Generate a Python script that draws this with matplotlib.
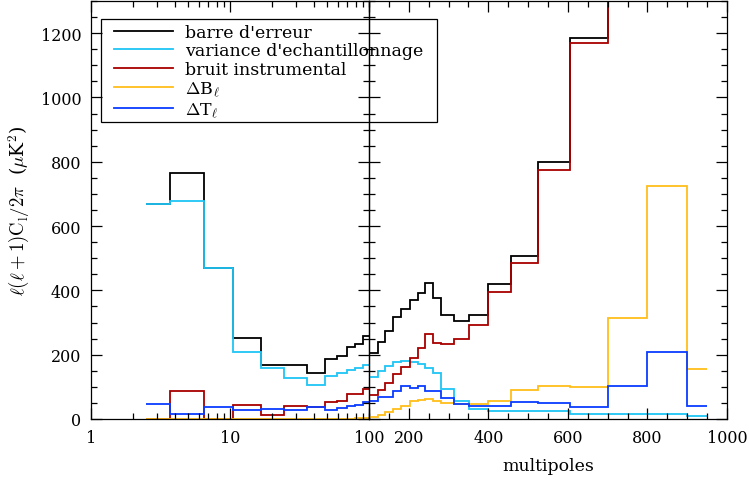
#Barres d'erreur du spectre de puissance : deux echelles (log puis lineaire)

import matplotlib
matplotlib.use('Agg')
import matplotlib.pyplot as plt
from matplotlib.ticker import FixedLocator, MultipleLocator, NullFormatter, FixedFormatter

plt.rcParams['font.family'] = ['DejaVu Serif']
plt.rcParams['mathtext.fontset'] = 'cm'

#bords des intervalles en multipoles
bords_log = [2.49, 3.72, 6.47, 10.5, 16.6, 24.6, 35.6, 48, 58.6, 69, 79, 90, 100]
bords_lin = [100, 122, 141, 161, 181, 202, 222, 242, 261, 282, 313, 352, 400, 457, 524, 606, 700, 798, 899, 949]

#partie gauche (l < 100)
erreur_g = [668, 764, 471, 252, 168, 168, 144, 187, 197, 224, 233, 259]
variance_g = [668, 678, 471, 207, 158, 127, 106, 135, 142, 153, 159, 168]
bruit_g = [0, 86, 1, 44, 12, 41, 38, 52, 55, 78, 78, 93]
dB_g = [0, 0, 0, 0, 0, 0, 0, 0, 0, 1, 2, 4]
dT_g = [47, 16, 38, 29, 31, 29, 36, 29, 34, 41, 44, 52]

#partie droite (l > 100)
erreur_d = [205, 240, 275, 316, 342, 370, 392, 422, 376, 324, 304, 323, 420, 508, 800, 1184, 1450, 1600, 1550]
variance_d = [132, 149, 166, 176, 181, 178, 171, 158, 142, 93, 55, 31, 26, 26, 26, 16, 16, 16, 9]
bruit_d = [75, 91, 111, 140, 161, 189, 220, 264, 236, 233, 249, 292, 394, 484, 775, 1169, 1440, 1590, 1540]
dB_d = [5, 12, 21, 31, 41, 57, 59, 62, 55, 50, 47, 47, 55, 91, 102, 98, 315, 726, 155]
dT_d = [57, 67, 69, 88, 104, 95, 104, 88, 88, 64, 47, 41, 41, 52, 49, 38, 102, 209, 41]

noms = ["barre d'erreur", "variance d'echantillonnage", 'bruit instrumental',
        r'$\Delta$B$_\ell$', r'$\Delta$T$_\ell$']
couleurs = ['black', '#1ec6f6', '#a80000', '#ffbe1a', '#0a3cff']

fig = plt.figure(figsize=(7.49, 4.85), dpi=100)
ax1 = fig.add_axes([91/749, 65/485, 278/749, 418/485])
ax2 = fig.add_axes([369/749, 65/485, 358/749, 418/485])

series_g = [erreur_g, variance_g, bruit_g, dB_g, dT_g]
series_d = [erreur_d, variance_d, bruit_d, dB_d, dT_d]
handles = []
for vg, vd, c in zip(series_g, series_d, couleurs):
    ax1.stairs(vg, bords_log, baseline=None, color=c, lw=1.3)
    ax2.stairs(vd, bords_lin, baseline=None, color=c, lw=1.3)
    handles.append(plt.Line2D([], [], color=c, lw=1.3))

#axe gauche : logarithmique
ax1.set_xscale('log')
ax1.set_xlim(1, 100)
ax1.set_ylim(0, 1300)
ax1.xaxis.set_major_locator(FixedLocator([1, 10, 100]))
ax1.xaxis.set_major_formatter(FixedFormatter(['1', '10', '100']))
ax1.xaxis.set_minor_formatter(NullFormatter())
ax1.yaxis.set_major_locator(MultipleLocator(200))
ax1.yaxis.set_minor_locator(MultipleLocator(50))
ax1.set_ylabel(r'$\ell(\ell+1)\mathrm{C_l}/2\pi$  ($\mu$K$^2$)', fontsize=13.5, labelpad=6)

#axe droit : lineaire
ax2.set_xlim(100, 1000)
ax2.set_ylim(0, 1300)
ax2.xaxis.set_major_locator(FixedLocator([200, 400, 600, 800, 1000]))
ax2.xaxis.set_minor_locator(MultipleLocator(50))
ax2.yaxis.set_major_locator(MultipleLocator(200))
ax2.yaxis.set_minor_locator(MultipleLocator(50))
ax2.yaxis.set_major_formatter(NullFormatter())
ax2.set_xlabel('multipoles', fontsize=12.5, labelpad=8)

for ax in (ax1, ax2):
    ax.tick_params(which='both', direction='in', top=True, right=True, left=True,
                   labelsize=11.5, width=0.9)
    ax.tick_params(which='major', length=8, pad=7)
    ax.tick_params(which='minor', length=4)
    ax.set_facecolor('none')
    for s in ax.spines.values():
        s.set_linewidth(0.9)

#legende
fig.legend(handles, noms, loc='upper left', bbox_to_anchor=(114/749, 1 - 25/485),
           frameon=False, fontsize=12.5, borderpad=0, borderaxespad=0,
           handlelength=3.4, handletextpad=0.7, labelspacing=0.08)
fig.patches.append(plt.Rectangle((101/749, 1 - 123/485), 336/749, 103/485,
                                 transform=fig.transFigure, fill=False,
                                 edgecolor='black', lw=0.9))

plt.savefig('out.png', dpi=100)
